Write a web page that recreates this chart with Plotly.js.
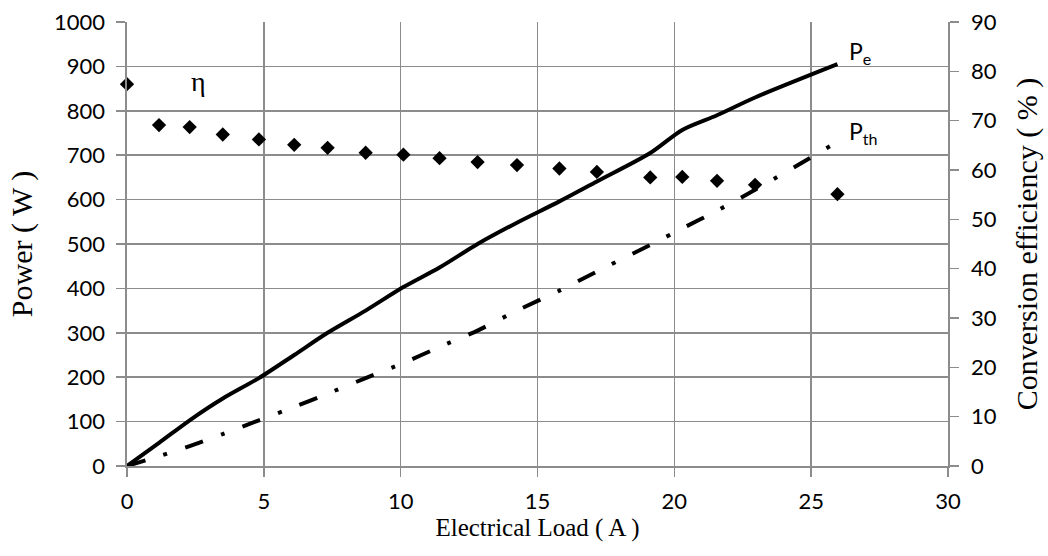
<!DOCTYPE html>
<html>
<head>
<meta charset="utf-8">
<script src="https://cdn.plot.ly/plotly-3.0.1.min.js"></script>
<style>html,body{margin:0;padding:0;background:#fff;}#chart{width:1048px;height:556px;}</style>
</head>
<body>
<div id="chart"></div>
<script>
// Electrical load (A)
const loadA = [0, 1.17, 2.29, 3.5, 4.82, 6.11, 7.33, 8.72, 10.1, 11.42, 12.81, 14.25, 15.8, 17.17, 19.12, 20.29, 21.56, 22.95, 25.96];
// Electrical power Pe (W)
const powerPe = [0, 52, 103, 152, 198, 250, 300, 350, 403, 447, 500, 548, 596, 641, 705, 757, 790, 830, 905];
// Thermal power Pth (W)
const powerPth = [0, 22, 45, 72, 103, 133, 163, 198, 232, 268, 305, 350, 395, 438, 498, 535, 575, 622, 730];
// Conversion efficiency eta (%)
const effEta = [77.4, 69.1, 68.7, 67.2, 66.2, 65.1, 64.5, 63.5, 63.1, 62.4, 61.6, 61.0, 60.3, 59.6, 58.5, 58.6, 57.8, 57.0, 55.1];

const xTicks = [0, 5, 10, 15, 20, 25, 30];
const yTicks = [0, 100, 200, 300, 400, 500, 600, 700, 800, 900, 1000];
const y2Ticks = [0, 10, 20, 30, 40, 50, 60, 70, 80, 90];

const gridCol = '#8c8c8c';
const tickFont = {family: 'Lato, "Open Sans", sans-serif', size: 22, color: '#000'};
const serif = '"Liberation Serif", "DejaVu Serif", serif';

const traces = [
  {x: loadA, y: powerPe, type: 'scatter', mode: 'lines', name: 'Pe', cliponaxis: false,
   line: {color: '#000', width: 4, shape: 'spline', smoothing: 0.8}},
  {x: loadA, y: powerPth, type: 'scatter', mode: 'lines', name: 'Pth', cliponaxis: false,
   line: {color: '#000', width: 4, dash: '19px,19px,4px,19px', shape: 'spline', smoothing: 0.6}},
  {x: loadA, y: effEta, type: 'scatter', mode: 'markers', name: 'eta', yaxis: 'y2', cliponaxis: false,
   marker: {symbol: 'diamond', size: 11, color: '#000'}}
];

const layout = {
  width: 1048, height: 556,
  margin: {l: 127, r: 100, t: 22, b: 90},
  paper_bgcolor: '#fff', plot_bgcolor: '#fff',
  showlegend: false,
  xaxis: {
    range: [0, 30], tickvals: xTicks, ticktext: xTicks.map(String),
    showgrid: true, gridcolor: gridCol, gridwidth: 1.6,
    zeroline: false, showline: true, linecolor: gridCol, linewidth: 1.6,
    ticks: 'outside', ticklen: 9, tickcolor: gridCol, tickwidth: 1.6,
    ticklabelstandoff: 6, tickfont: tickFont,
    title: {text: 'Electrical Load ( A )', font: {family: serif, size: 25, color: '#000'}, standoff: 0}
  },
  yaxis: {
    range: [0, 1000], tickvals: yTicks, ticktext: yTicks.map(String),
    showgrid: true, gridcolor: gridCol, gridwidth: 1.6,
    zeroline: false, showline: true, linecolor: gridCol, linewidth: 1.6,
    ticks: 'outside', ticklen: 9, tickcolor: gridCol, tickwidth: 1.6,
    ticklabelstandoff: 7, tickfont: tickFont,
    title: {text: 'Power ( W )', font: {family: serif, size: 30, color: '#000'}, standoff: 12}
  },
  yaxis2: {
    overlaying: 'y', side: 'right', range: [0, 90],
    tickvals: y2Ticks, ticktext: y2Ticks.map(String),
    showgrid: false, zeroline: false, showline: true, linecolor: gridCol, linewidth: 1.6,
    ticks: 'outside', ticklen: 9, tickcolor: gridCol, tickwidth: 1.6,
    ticklabelstandoff: 8, tickfont: tickFont,
    title: {text: 'Conversion efficiency ( % )', font: {family: serif, size: 30, color: '#000'}, standoff: 20}
  },
  annotations: [
    {x: 2.6, y: 866, xref: 'x', yref: 'y', text: 'η', showarrow: false,
     font: {family: serif, size: 28, color: '#000'}},
    {x: 26.3, y: 932, xref: 'x', yref: 'y', text: 'P<sub>e</sub>', showarrow: false, xanchor: 'left',
     font: {family: 'Lato, sans-serif', size: 23, color: '#000'}},
    {x: 26.3, y: 751, xref: 'x', yref: 'y', text: 'P<sub>th</sub>', showarrow: false, xanchor: 'left',
     font: {family: 'Lato, sans-serif', size: 23, color: '#000'}}
  ]
};

Plotly.newPlot('chart', traces, layout, {displayModeBar: false, staticPlot: true});
</script>
</body>
</html>
